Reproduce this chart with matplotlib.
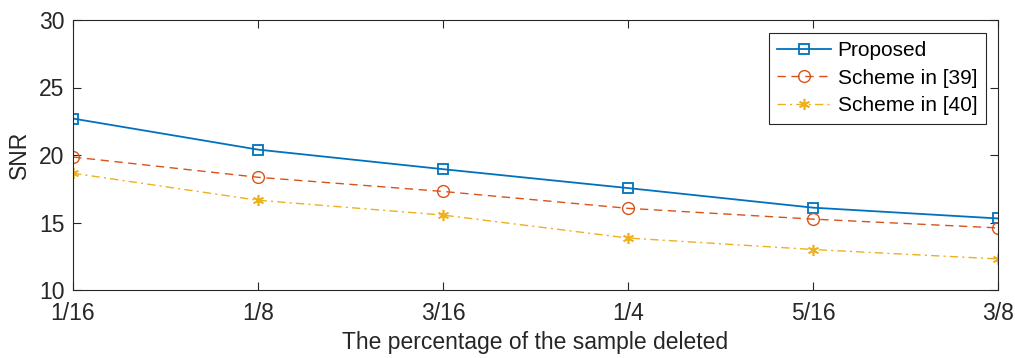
import numpy as np
import matplotlib.pyplot as plt

plt.rcParams['font.family'] = ['Liberation Sans', 'DejaVu Sans']

fractions = ['1/16', '1/8', '3/16', '1/4', '5/16', '3/8']
proposed = [22.7, 20.4, 18.95, 17.55, 16.1, 15.3]
scheme_39 = [19.85, 18.35, 17.3, 16.05, 15.25, 14.6]
scheme_40 = [18.65, 16.65, 15.55, 13.85, 13.0, 12.3]


def main():
    x = np.arange(len(fractions))
    fig = plt.figure(figsize=(10.15, 3.58), dpi=100)
    ax = fig.add_axes([73 / 1015, 1 - 290 / 358, 925 / 1015, 270 / 358])

    ax.plot(x, proposed, '-s', color='#0072BD', lw=1.3, ms=7,
            mfc='none', mew=1.3, label='Proposed')
    ax.plot(x, scheme_39, '--o', color='#D95319', lw=1.0, ms=8.5,
            mfc='none', mew=1.0, label='Scheme in [39]', dashes=(6, 4))
    ax.plot(x, scheme_40, linestyle='-.', marker=(6, 2, 0), color='#EDB120',
            lw=1.0, ms=8, mew=1.2, label='Scheme in [40]',
            dashes=(6, 3, 1.5, 3))

    ax.set_xlim(0, len(fractions) - 1)
    ax.set_ylim(10, 30)
    ax.set_xticks(x)
    ax.set_xticklabels(fractions)
    ax.set_yticks([10, 15, 20, 25, 30])
    ax.tick_params(direction='in', top=True, right=True, labelsize=16.5,
                   length=6, width=0.8, colors='#262626')
    ax.tick_params(axis='x', pad=9)
    ax.tick_params(axis='y', pad=6)
    for side in ax.spines.values():
        side.set_color('#262626')
        side.set_linewidth(0.8)

    ax.set_xlabel('The percentage of the sample deleted', fontsize=16.5,
                  color='#262626', labelpad=4)
    ax.set_ylabel('SNR', fontsize=16.5, color='#262626', labelpad=6)

    leg = ax.legend(loc='upper right', fontsize=15, frameon=True,
                    fancybox=False, edgecolor='#262626', framealpha=1,
                    borderpad=0.4, labelspacing=0.42, handlelength=2.6,
                    handletextpad=0.3, borderaxespad=0.6)
    leg.get_frame().set_linewidth(0.8)

    fig.savefig('out.png', dpi=100)


if __name__ == "__main__":
    main()
